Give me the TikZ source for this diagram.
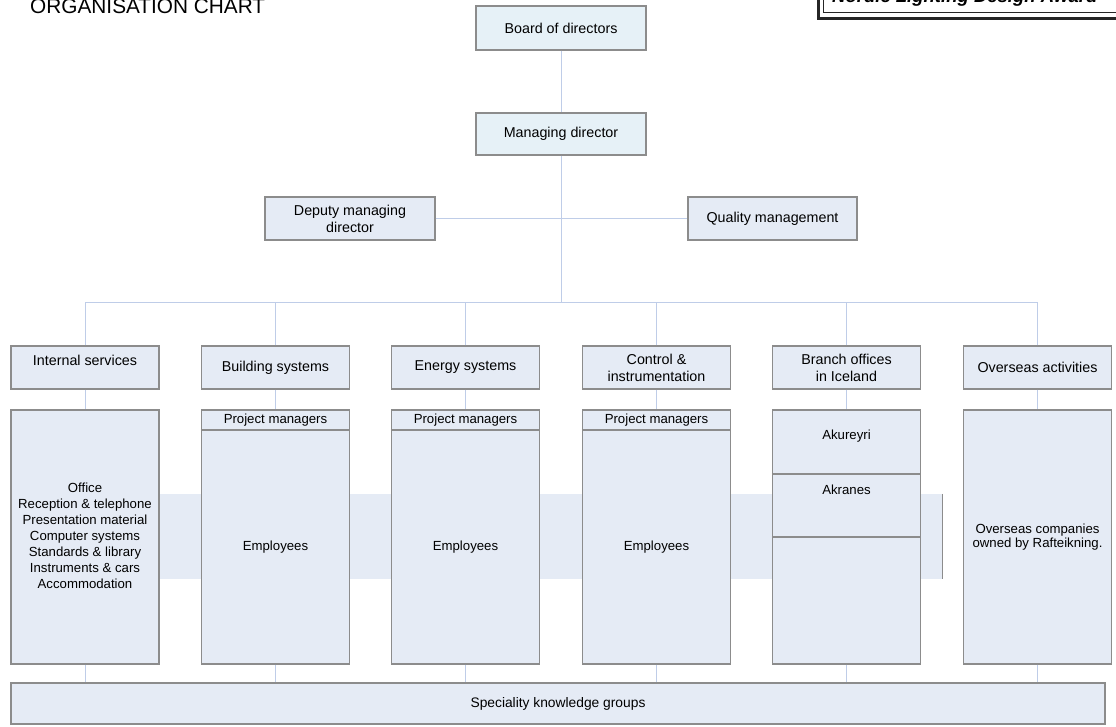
\documentclass[tikz,border=0pt]{standalone}
\usepackage{fontspec}
\setmainfont{Liberation Sans}
\begin{document}
\begin{tikzpicture}[x=1pt,y=-1pt,
  boxline/.style={draw=black!45, line width=1.1pt},
  topbox/.style={boxline, fill=boxfill, inner sep=0pt, align=center, font=\fontsize{14.3}{17}\selectfont},
  headbox/.style={boxline, fill=headfill, inner sep=0pt, align=center, font=\fontsize{14.3}{17}\selectfont},
  lowbox/.style={boxline, fill=boxfill, inner sep=0pt, minimum width=148pt, minimum height=254pt},
  colbox/.style={topbox, minimum width=148pt, minimum height=43pt},
  small/.style={inner sep=0pt, align=center, font=\fontsize{13.2}{16}\selectfont},
  conn/.style={draw=connc, line width=1pt}
]
\definecolor{boxfill}{HTML}{E5EBF5}
\definecolor{headfill}{HTML}{E6F1F7}
\definecolor{connc}{HTML}{BFCDE8}
\useasboundingbox (0,0) rectangle (1116,727);
\fill[white] (0,0) rectangle (1116,727);

% title
\node[anchor=base west, inner sep=0pt, font=\fontsize{20.8}{24}\selectfont] (title) at (30,14) {ORGANISATION CHART};

% award box (cut off at top and right)
\begin{scope}
\clip (0,0) rectangle (1116,727);
\node[draw=black!85, line width=3pt, minimum width=320pt, minimum height=50pt, inner sep=0pt] (award) at (978,-6) {};
\draw[black!85, line width=1pt] (823,-40) -- (823,13) -- (1140,13);
\node[anchor=base west, inner sep=0pt, font=\fontsize{18.5}{20}\selectfont\bfseries\itshape] (awardtxt) at (832,3) {Nordic Lighting Design Award};
\end{scope}

% band behind columns
\node[fill=boxfill, minimum width=842pt, minimum height=85pt, inner sep=0pt] (band) at (521,536.5) {};
\draw[boxline] (band.north east) -- (band.south east);

% coordinates
\coordinate (bus) at (561,302);
\coordinate (pm) at (0,430);
\coordinate (d1) at (0,474);
\coordinate (d2) at (0,537);

% head boxes
\node[headbox, minimum width=170pt, minimum height=44pt] (bod) at (561,28) {Board of directors};
\node[headbox, minimum width=170pt, minimum height=42pt] (md) at (561,134) {Managing director};
\node[topbox, minimum width=170pt, minimum height=43pt] (dep) at (350,218.5) {Deputy managing\\director};
\node[topbox, minimum width=169pt, minimum height=43pt] (qm) at (772.5,218.5) {Quality management};

% column top boxes
\node[colbox] (t1) at (85,367.5) {};
\node[small, font=\fontsize{14.3}{17}\selectfont] (t1txt) at (85,360) {Internal services};
\node[colbox] (t2) at (275.5,367.5) {Building systems};
\node[colbox] (t3) at (465.5,367.5) {Energy systems};
\node[colbox] (t4) at (656.5,367.5) {Control \&\\instrumentation};
\node[colbox] (t5) at (846.5,367.5) {Branch offices\\in Iceland};
\node[colbox] (t6) at (1037.5,367.5) {Overseas activities};

% lower boxes
\node[lowbox] (l1) at (85,537) {};
\node[lowbox] (l2) at (275.5,537) {};
\node[lowbox] (l3) at (465.5,537) {};
\node[lowbox] (l4) at (656.5,537) {};
\node[lowbox] (l5) at (846.5,537) {};
\node[lowbox] (l6) at (1037.5,537) {};

\node[small] (l1txt) at (85,536) {Office\\Reception \& telephone\\Presentation material\\Computer systems\\Standards \& library\\Instruments \& cars\\Accommodation};

\foreach \i in {2,3,4}{
  \draw[boxline] (l\i.west |- pm) -- (l\i.east |- pm);
  \node[small] (pm\i) at (l\i.center |- {0,420}) {Project managers};
  \node[small] (em\i) at (l\i.center |- {0,547}) {Employees};
}
\draw[boxline] (l5.west |- d1) -- (l5.east |- d1);
\draw[boxline] (l5.west |- d2) -- (l5.east |- d2);
\node[small] (aku) at (846.5,436) {Akureyri};
\node[small] (akr) at (846.5,490) {Akranes};
\node[small, font=\fontsize{13.2}{14.5}\selectfont] (l6txt) at (1037.5,537) {Overseas companies\\owned by Rafteikning.};

% speciality
\node[topbox, minimum width=1094pt, minimum height=41pt, font=\fontsize{13.8}{16}\selectfont] (spec) at (558,703.5) {Speciality knowledge groups};

% connectors
\draw[conn] (bod) -- (md);
\draw[conn] (md) -- (bus);
\draw[conn] (dep) -- (qm);
\draw[conn] (t1.north |- bus) -- (t6.north |- bus);
\foreach \i in {1,...,6}{
  \draw[conn] (t\i.north) -- (t\i.north |- bus);
  \draw[conn] (t\i) -- (l\i);
  \draw[conn] (l\i.south) -- (l\i.south |- spec.north);
}
\end{tikzpicture}
\end{document}
